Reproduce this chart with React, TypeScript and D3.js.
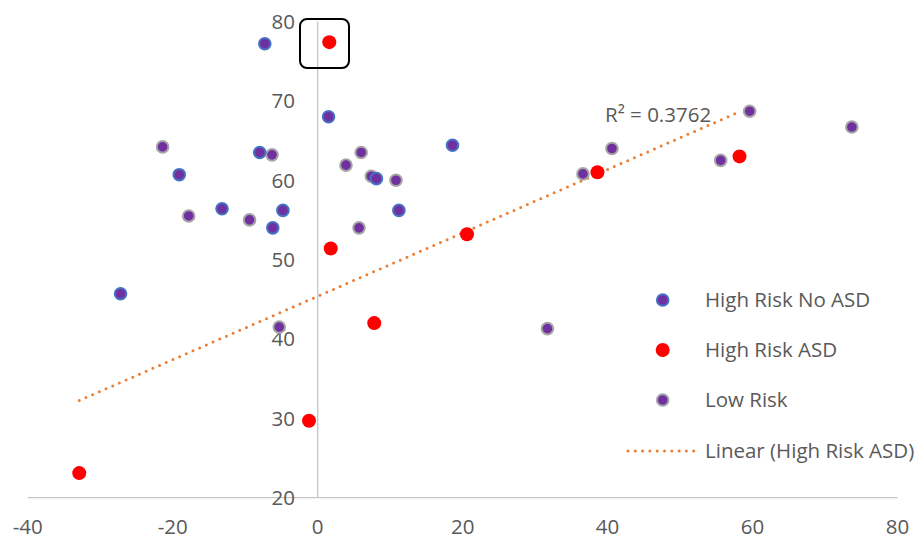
import React from 'react'
import * as d3 from 'd3'

// [x, y] pairs
const highRiskNoASD: [number, number][] = [
  [-7.3, 77.2], [1.5, 68.0], [-19.1, 60.7], [-8.0, 63.5], [-13.2, 56.4], [-4.8, 56.2],
  [-6.2, 54.0], [8.1, 60.2], [11.2, 56.2], [18.6, 64.4], [-27.2, 45.7]
]
const highRiskASD: [number, number][] = [
  [1.6, 77.4], [1.8, 51.4], [7.8, 42.0], [-1.2, 29.7], [-32.9, 23.1], [20.6, 53.2],
  [38.6, 61.0], [58.2, 63.0]
]
const lowRisk: [number, number][] = [
  [-21.4, 64.2], [-6.3, 63.2], [-17.8, 55.5], [-9.4, 55.0], [3.9, 61.9], [6.0, 63.5],
  [7.4, 60.5], [10.8, 60.0], [5.7, 54.0], [-5.3, 41.5], [40.6, 64.0], [36.6, 60.8],
  [59.6, 68.7], [55.6, 62.5], [73.7, 66.7], [31.7, 41.3]
]
const xTicks = [-40, -20, 0, 20, 40, 60, 80]
const yTicks = [20, 30, 40, 50, 60, 70, 80]
const legendLabels = ['High Risk No ASD', 'High Risk ASD', 'Low Risk', 'Linear (High Risk ASD)']
const r2Label = 'R² = 0.3762'

const font = '"Open Sans", sans-serif'
const fs = 20.5
const textColor = '#595959'
const axisColor = '#c6c6c6'
const purple = '#7030A0'

export default function App() {
  const width = 920
  const height = 540
  const x = d3.scaleLinear().domain([-40, 80]).range([27.8, 897.5])
  const y = d3.scaleLinear().domain([20, 80]).range([497.7, 21.5])

  // least-squares trend of the High Risk ASD series
  const mx = d3.mean(highRiskASD, d => d[0])!
  const my = d3.mean(highRiskASD, d => d[1])!
  const slope = d3.sum(highRiskASD, d => (d[0] - mx) * (d[1] - my)) / d3.sum(highRiskASD, d => (d[0] - mx) ** 2)
  const intercept = my - slope * mx
  const [x0, x1] = d3.extent(highRiskASD, d => d[0]) as [number, number]
  const trend = d3.line<number>().x(v => x(v)).y(v => y(intercept + slope * v))([x0, x1])!

  const legendY = [300, 350, 400, 451]

  return (
    <svg width={width} height={height} style={{ position: 'absolute', left: 0, top: 0 }}>
      <rect width={width} height={height} fill="#fff" />
      <line x1={x(-40)} x2={x(80)} y1={y(20)} y2={y(20)} stroke={axisColor} strokeWidth={1.3} />
      <line x1={x(0)} x2={x(0)} y1={y(80)} y2={y(20)} stroke={axisColor} strokeWidth={1.3} />
      {xTicks.map(t => (
        <text key={`x${t}`} x={x(t)} y={533.5} textAnchor="middle" fontFamily={font} fontSize={fs} fill={textColor}>{t}</text>
      ))}
      {yTicks.map(t => (
        <text key={`y${t}`} x={295} y={y(t) + 7.5} textAnchor="end" fontFamily={font} fontSize={fs} fill={textColor}>{t}</text>
      ))}
      <path d={trend} fill="none" stroke="#ED7D31" strokeWidth={3} strokeDasharray="0 7.3" strokeLinecap="round" />
      {lowRisk.map((d, i) => (
        <circle key={`l${i}`} cx={x(d[0])} cy={y(d[1])} r={5.8} fill={purple} stroke="#a5a5a5" strokeWidth={2} />
      ))}
      {highRiskNoASD.map((d, i) => (
        <circle key={`b${i}`} cx={x(d[0])} cy={y(d[1])} r={5.8} fill={purple} stroke="#4472C4" strokeWidth={2} />
      ))}
      {highRiskASD.map((d, i) => (
        <circle key={`r${i}`} cx={x(d[0])} cy={y(d[1])} r={7} fill="#FF0000" />
      ))}
      <rect x={300} y={19} width={49} height={49} rx={7} fill="none" stroke="#000" strokeWidth={2} />
      <text x={605} y={121.5} fontFamily={font} fontSize={fs} fill={textColor}>{r2Label}</text>
      <circle cx={662.7} cy={legendY[0]} r={5.8} fill={purple} stroke="#4472C4" strokeWidth={2} />
      <circle cx={662.7} cy={legendY[1]} r={7} fill="#FF0000" />
      <circle cx={662.7} cy={legendY[2]} r={5.8} fill={purple} stroke="#a5a5a5" strokeWidth={2} />
      <line x1={628} x2={694} y1={legendY[3]} y2={legendY[3]} stroke="#ED7D31" strokeWidth={3} strokeDasharray="0 7.3" strokeLinecap="round" />
      {legendLabels.map((l, i) => (
        <text key={l} x={705} y={legendY[i] + 6.5} fontFamily={font} fontSize={fs} fill={textColor}>{l}</text>
      ))}
    </svg>
  )
}
